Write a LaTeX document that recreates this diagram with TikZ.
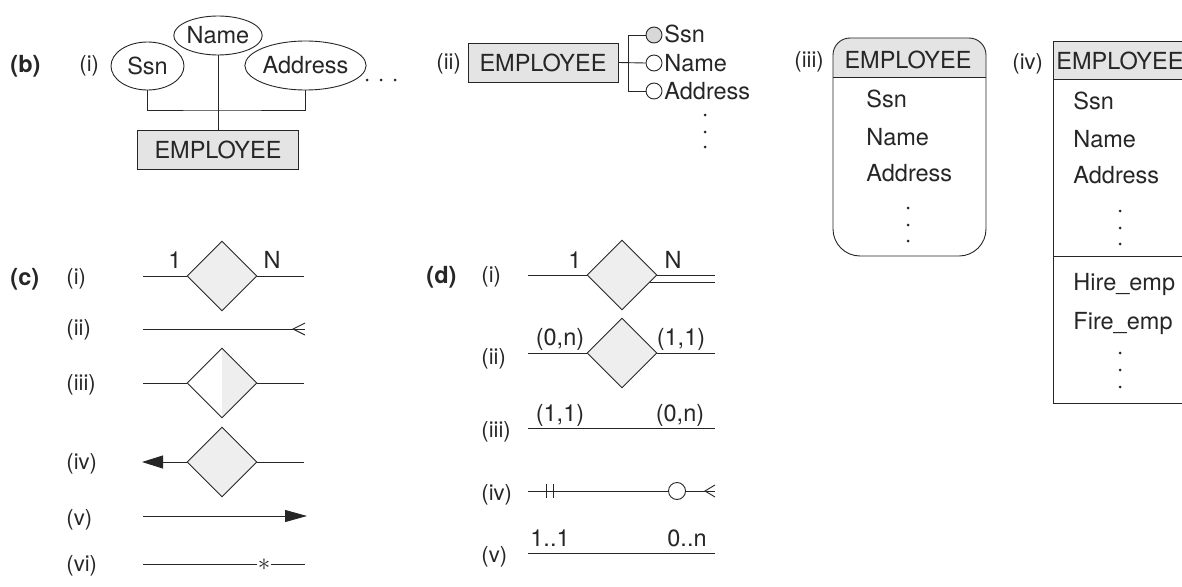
\documentclass[tikz,border=0pt]{standalone}
\usepackage{fontspec}
\setmainfont{TeX Gyre Heros}
\usetikzlibrary{shapes.geometric,arrows.meta,calc}
\definecolor{ink}{HTML}{262626}
\definecolor{boxfill}{HTML}{E4E4E4}
\definecolor{relfill}{HTML}{EEEEEE}
\definecolor{keyfill}{HTML}{D8D8D8}
\newcommand\txtsz{\fontsize{23.5}{28}\selectfont}
\newcommand\labsz{\fontsize{22}{26}\selectfont}
\newcommand\secsz{\fontsize{23.5}{28}\selectfont\bfseries}
\begin{document}
\begin{tikzpicture}[x=1pt,y=-1pt,line width=0.9pt,color=ink,
  ent/.style={draw,fill=boxfill,inner sep=0pt,minimum height=39pt,font=\txtsz},
  attr/.style={ellipse,draw,inner sep=0pt,font=\txtsz},
  rel/.style={diamond,draw,fill=relfill,inner sep=0pt,minimum width=70pt,minimum height=70pt},
  txt/.style={inner sep=0pt,anchor=base west,font=\txtsz},
  ctxt/.style={inner sep=0pt,anchor=base,font=\txtsz},
  lab/.style={inner sep=0pt,anchor=base west,font=\labsz},
  sec/.style={inner sep=0pt,anchor=base west,font=\secsz},
  keyc/.style={circle,draw,fill=white,inner sep=0pt,minimum size=16pt}]
\useasboundingbox (0,0) rectangle (1182,586);
\clip (0,0) rectangle (1182,586);
\fill[white] (0,0) rectangle (1182,586);

% ---------- (b)(i)
\node[sec] (lb) at (10,72) {(b)};
\node[lab] (lbi) at (79,71) {(i)};
\node[attr,minimum width=73pt,minimum height=48pt] (ssn) at (147.5,66) {Ssn};
\node[attr,minimum width=88pt,minimum height=39pt] (nm) at (218,35.5) {Name};
\node[attr,minimum width=116pt,minimum height=49pt] (ad) at (305.5,65.5) {Address};
\node[ent,minimum width=161pt] (e1) at (218,149.5) {EMPLOYEE};
\coordinate (bj) at (218,110);
\draw (ssn.south) |- (bj) -| (ad.south);
\draw (nm.south) -- (e1.north);
\foreach \x in {367,381,395} \fill (\x,80) circle (1.5);

% ---------- (b)(ii)
\node[lab] (lbii) at (436,70) {(ii)};
\node[ent,minimum width=150pt] (e2) at (543,62.5) {EMPLOYEE};
\node[keyc,fill=keyfill] (k1) at (654,35) {};
\node[keyc] (k2) at (654,63) {};
\node[keyc] (k3) at (654,91) {};
\coordinate (br) at (628,63);
\draw (e2.east) -- (k2.west);
\draw (k1.west) -| (br) |- (k3.west);
\node[txt] (t1) at (664,43) {Ssn};
\node[txt] (t2) at (664,71) {Name};
\node[txt] (t3) at (664,99) {Address};
\foreach \y in {115,132,147} \fill (705,\y) circle (1.5);

% ---------- (b)(iii)
\node[lab] (lbiii) at (794,67) {(iii)};
\begin{scope}
\clip (833,229) -- (833,55) arc[start angle=180,end angle=270,radius=17] -- (969,38)
  arc[start angle=270,end angle=360,radius=17] -- (986,229)
  arc[start angle=0,end angle=90,radius=27] -- (860,256)
  arc[start angle=90,end angle=180,radius=27] -- cycle;
\fill[boxfill] (830,35) rectangle (990,77);
\end{scope}
\draw (833,229) -- (833,55) arc[start angle=180,end angle=270,radius=17] -- (969,38)
  arc[start angle=270,end angle=360,radius=17] -- (986,229)
  arc[start angle=0,end angle=90,radius=27] -- (860,256)
  arc[start angle=90,end angle=180,radius=27] -- cycle;
\draw (833,77) -- (986,77);
\node[ctxt] (h3) at (908,68) {EMPLOYEE};
\node[txt] (a31) at (866,107) {Ssn};
\node[txt] (a32) at (866,145) {Name};
\node[txt] (a33) at (866,181) {Address};
\foreach \y in {208,225,241} \fill (908,\y) circle (1.5);

% ---------- (b)(iv)
\node[lab] (lbiv) at (1012,70) {(iv)};
\fill[boxfill] (1053,41) rectangle (1192,79);
\draw (1053,41) rectangle (1192,403);
\draw (1053,79) -- (1192,79);
\draw (1053,256) -- (1192,256);
\node[txt] (h4) at (1056,70) {EMPLOYEE};
\node[txt] (a41) at (1073,109) {Ssn};
\node[txt] (a42) at (1073,147) {Name};
\node[txt] (a43) at (1073,183) {Address};
\foreach \y in {211,228,244} \fill (1120,\y) circle (1.5);
\node[txt] (o41) at (1073,290) {Hire\_emp};
\node[txt] (o42) at (1073,329) {Fire\_emp};
\foreach \y in {353,370,387} \fill (1120,\y) circle (1.5);

% ---------- (c)
\node[sec] (lc) at (10,285) {(c)};
\node[lab] (lci) at (66,284) {(i)};
\node[lab] (lcii) at (66,335) {(ii)};
\node[lab] (lciii) at (66,390) {(iii)};
\node[lab] (lciv) at (66,469) {(iv)};
\node[lab] (lcv) at (66,525) {(v)};
\node[lab] (lcvi) at (66,571) {(vi)};
% (i)
\node[rel] (r1) at (222,276) {};
\coordinate (c1a) at (143,276);
\coordinate (c1b) at (304,276);
\draw (c1a) -- (r1.west);
\draw (r1.east) -- (c1b);
\node[ctxt] (c1one) at (175,268) {1};
\node[ctxt] (c1n) at (272,268) {N};
% (ii)
\coordinate (c2a) at (143,329);
\coordinate (c2b) at (305,329);
\draw (c2a) -- (c2b);
\draw ($(c2b)+(0,-6)$) -- ($(c2b)+(-12,0)$) -- ($(c2b)+(0,6)$);
% (iii)
\node[rel,fill=white,path picture={\fill[relfill] (path picture bounding box.north) -- (path picture bounding box.east) -- (path picture bounding box.south) -- cycle;}] (r2) at (222,383) {};
\coordinate (c3a) at (143,383);
\coordinate (c3b) at (304,383);
\draw (c3a) -- (r2.west);
\draw (r2.east) -- (c3b);
% (iv)
\node[rel] (r3) at (222,462) {};
\coordinate (c4a) at (142,462);
\coordinate (c4b) at (304,462);
\draw[-{Triangle[length=21pt,width=13pt]}] (r3.west) -- (c4a);
\draw (r3.east) -- (c4b);
% (v)
\coordinate (c5a) at (143,516);
\coordinate (c5b) at (307,516);
\draw[-{Triangle[length=22pt,width=12pt]}] (c5a) -- (c5b);
% (vi)
\coordinate (c6a) at (143,564);
\coordinate (c6l) at (257,564);
\coordinate (c6r) at (271,564);
\coordinate (c6b) at (305,564);
\node[inner sep=0pt,font=\fontsize{25}{25}\selectfont] (ast) at (264,565) {$\ast$};
\draw (c6a) -- (c6l);
\draw (c6r) -- (c6b);

% ---------- (d)
\node[sec] (ld) at (426,283) {(d)};
\node[lab] (ldi) at (481,282) {(i)};
\node[lab] (ldii) at (481,364) {(ii)};
\node[lab] (ldiii) at (481,437) {(iii)};
\node[lab] (ldiv) at (481,500) {(iv)};
\node[lab] (ldv) at (481,562) {(v)};
% (i)
\node[rel] (d1) at (622,275) {};
\coordinate (d1a) at (528,275);
\coordinate (d1b) at (715,275);
\coordinate (d1c) at (715,282);
\draw (d1a) -- (d1.west);
\draw (d1.east) -- (d1b);
\draw ([shift={(-7,7)}]d1.east) -- (d1c);
\node[ctxt] (d1one) at (575,268) {1};
\node[ctxt] (d1n) at (673,268) {N};
% (ii)
\node[rel] (d2) at (622,353) {};
\coordinate (d2a) at (528,353);
\coordinate (d2b) at (715,353);
\draw (d2a) -- (d2.west);
\draw (d2.east) -- (d2b);
\node[ctxt] (d2l) at (560,345) {(0,n)};
\node[ctxt] (d2r) at (681,345) {(1,1)};
% (iii)
\coordinate (d3a) at (528,428);
\coordinate (d3b) at (715,428);
\draw (d3a) -- (d3b);
\node[ctxt] (d3l) at (560,421) {(1,1)};
\node[ctxt] (d3r) at (680,421) {(0,n)};
% (iv)
\coordinate (d4a) at (528,491);
\coordinate (d4b) at (715,491);
\node[circle,draw,fill=white,inner sep=0pt,minimum size=17pt] (o4) at (677,491) {};
\draw (d4a) -- (o4.west);
\draw (o4.east) -- (d4b);
\draw ($(d4a)+(18,-7)$) -- ++(0,14);
\draw ($(d4a)+(25,-7)$) -- ++(0,14);
\draw ($(d4b)+(0,-6)$) -- ($(d4b)+(-10,0)$) -- ($(d4b)+(0,6)$);
% (v)
\coordinate (d5a) at (528,553);
\coordinate (d5b) at (715,553);
\draw (d5a) -- (d5b);
\node[ctxt] (d5l) at (550,546) {1..1};
\node[ctxt] (d5r) at (687,546) {0..n};
\end{tikzpicture}
\end{document}
